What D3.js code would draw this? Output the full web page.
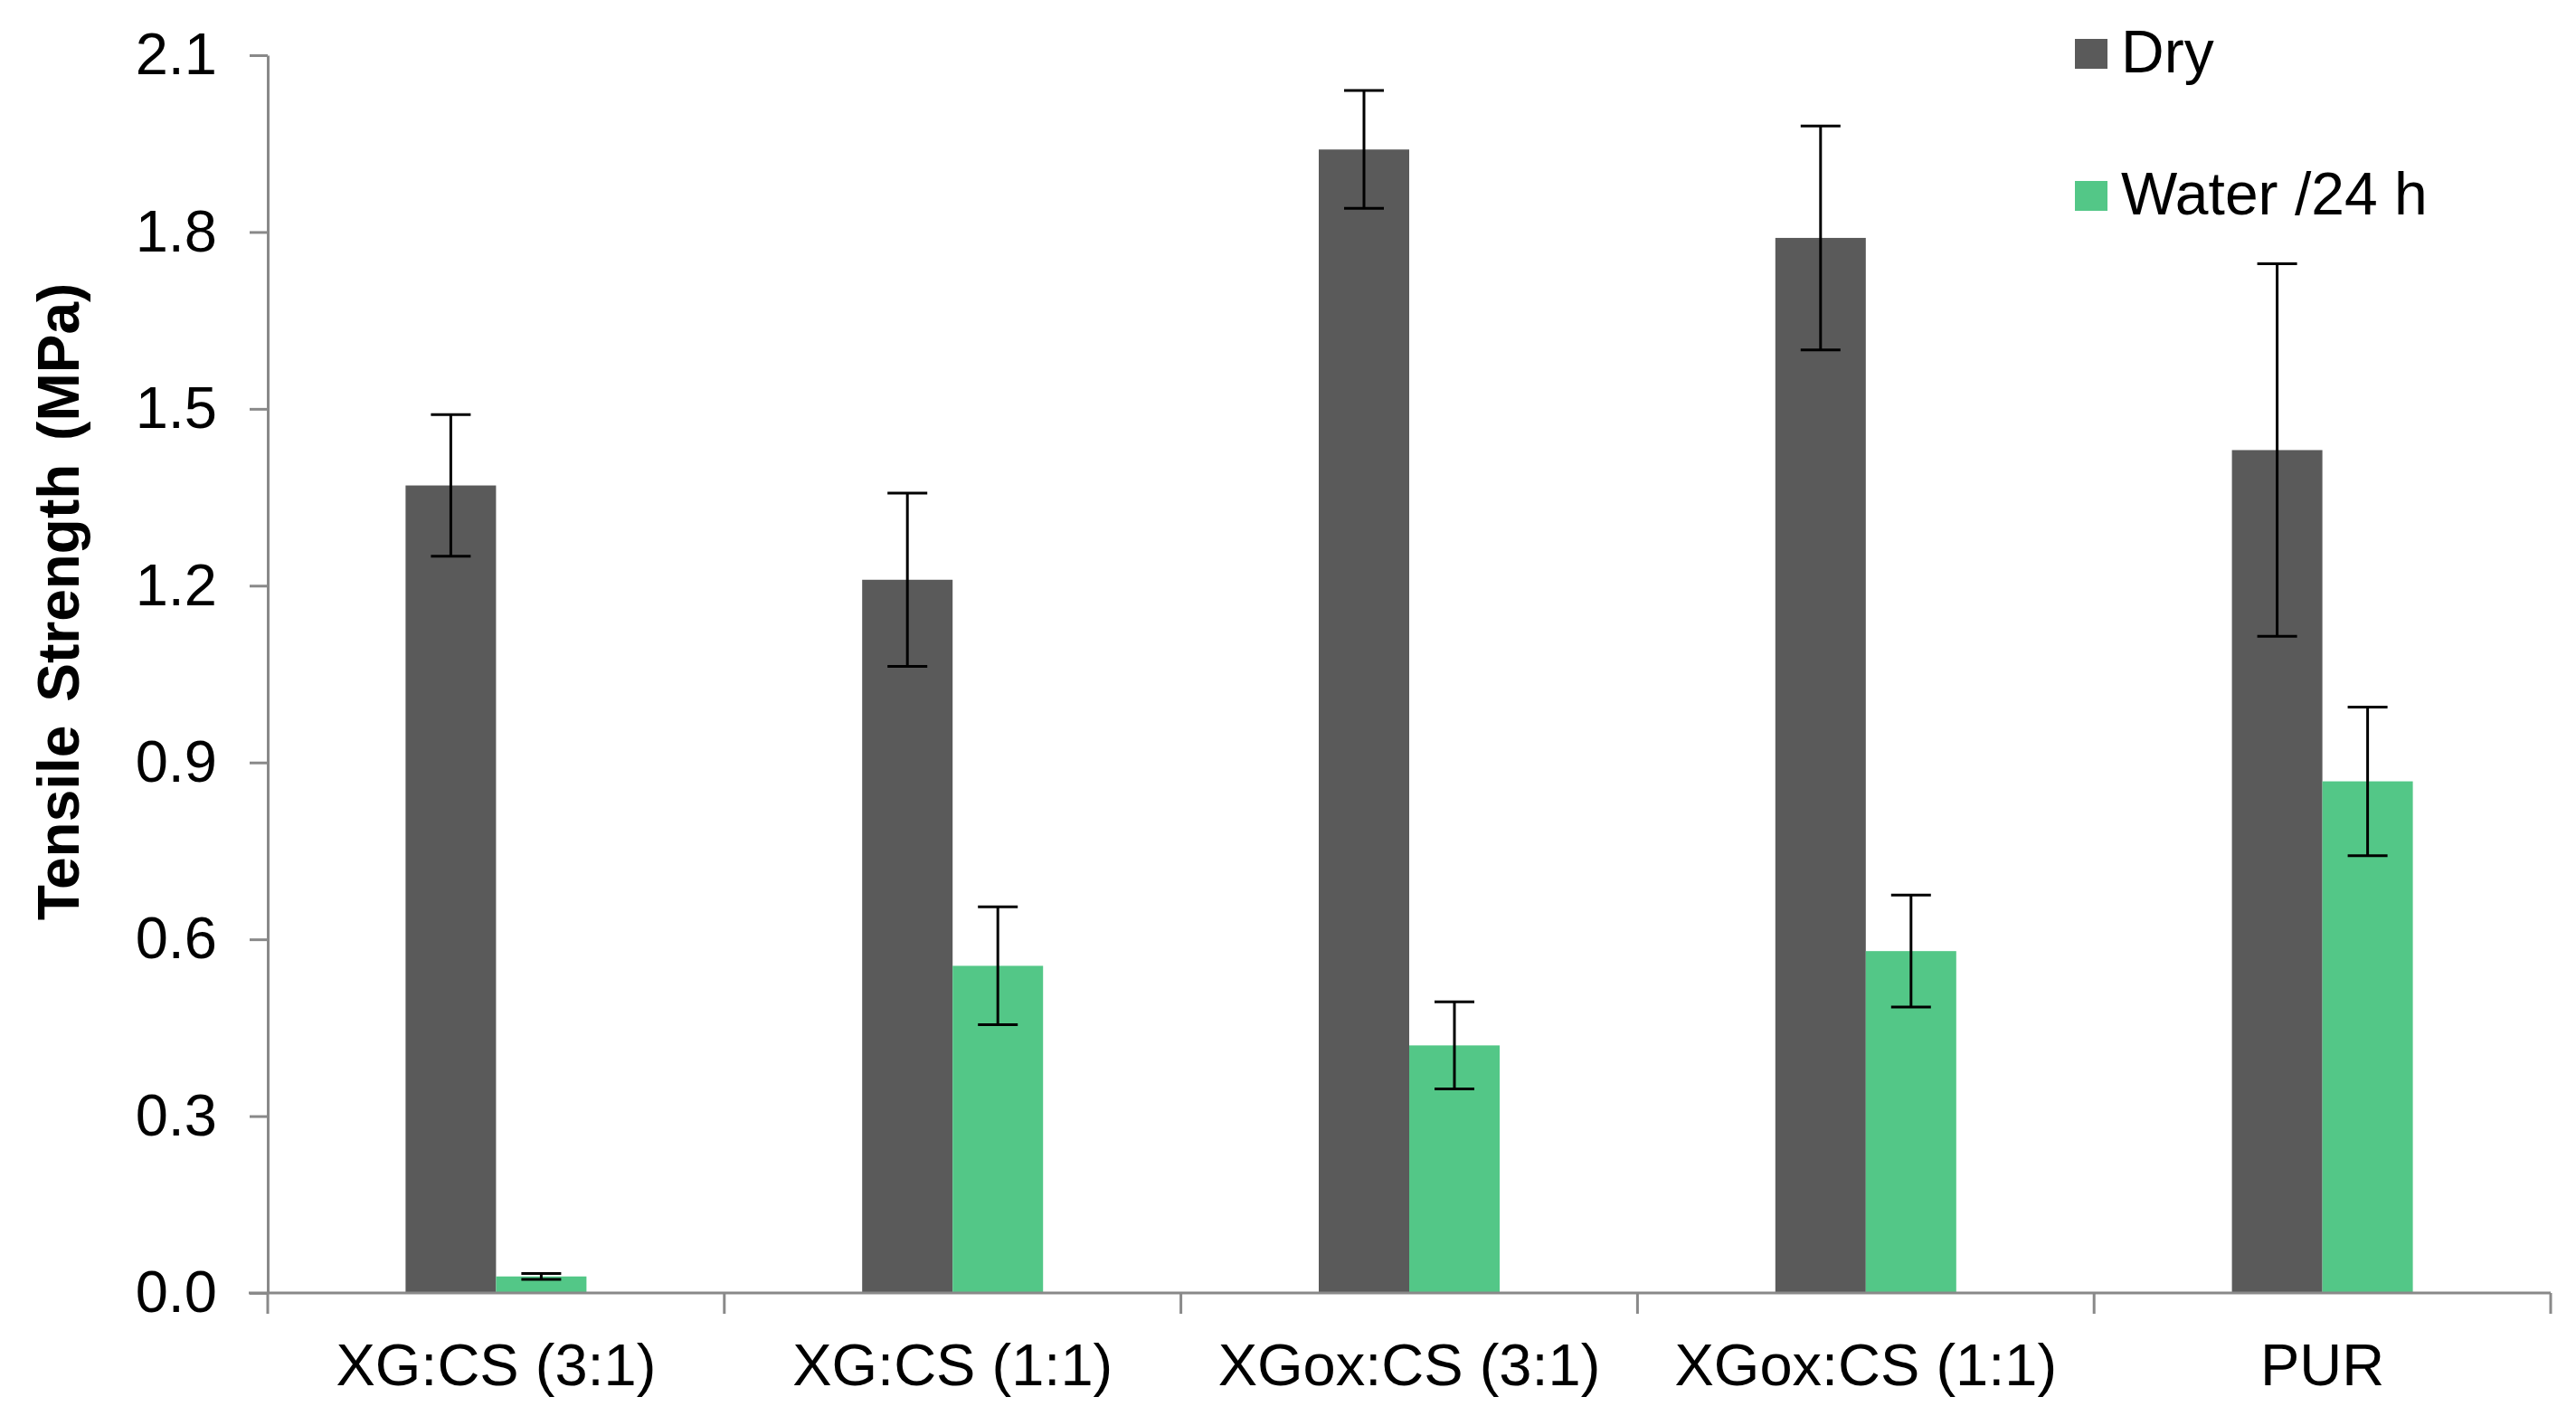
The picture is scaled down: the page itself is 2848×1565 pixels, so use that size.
<!DOCTYPE html>
<html>
<head>
<meta charset="utf-8">
<script src="https://cdn.jsdelivr.net/npm/d3@7"></script>
<style>
  body { margin: 0; background: #fff; }
  text { font-family: Arial, "Liberation Sans", sans-serif; fill: #000; }
</style>
</head>
<body>
<script>
(function() {
  'use strict';

  const categories = ['XG:CS (3:1)', 'XG:CS (1:1)', 'XGox:CS (3:1)', 'XGox:CS (1:1)', 'PUR'];
  const seriesNames = ['Dry', 'Water /24 h'];
  const dryValues = [1.37, 1.21, 1.94, 1.79, 1.43];
  const dryErrors = [0.12, 0.147, 0.10, 0.19, 0.316];
  const waterValues = [0.028, 0.555, 0.42, 0.58, 0.868];
  const waterErrors = [0.005, 0.10, 0.074, 0.095, 0.126];
  const yTicks = [0, 0.3, 0.6, 0.9, 1.2, 1.5, 1.8, 2.1];

  const w = 2848;
  const h = 1565;
  const left = 296;
  const right = 2820;
  const top = 61;
  const bottom = 1429;
  const colors = ['#5a5a5a', '#53c787'];
  const axisColor = '#898989';

  const rows = categories.map((c, i) => ({
    cat: c,
    values: [
      { s: 0, v: dryValues[i], e: dryErrors[i] },
      { s: 1, v: waterValues[i], e: waterErrors[i] }
    ]
  }));

  const x0 = d3.scaleBand().domain(categories).range([left, right]).padding(0);
  const groupW = 200;
  const x1 = d3.scaleBand().domain([0, 1]).range([0, groupW]).padding(0);
  const y = d3.scaleLinear().domain([0, 2.1]).range([bottom, top]);

  const svg = d3.select('body').append('svg')
    .attr('width', w)
    .attr('height', h);

  // bars
  const groups = svg.selectAll('g.group')
    .data(rows)
    .enter()
    .append('g')
    .attr('class', 'group')
    .attr('transform', d => 'translate(' + (x0(d.cat) + (x0.bandwidth() - groupW) / 2) + ',0)');

  groups.selectAll('rect')
    .data(d => d.values)
    .enter()
    .append('rect')
    .attr('x', d => x1(d.s))
    .attr('y', d => y(d.v))
    .attr('width', x1.bandwidth())
    .attr('height', d => y(0) - y(d.v))
    .attr('fill', d => colors[d.s]);

  // error bars
  const capW = 22;
  const err = groups.selectAll('g.err')
    .data(d => d.values)
    .enter()
    .append('g')
    .attr('class', 'err')
    .attr('stroke', '#000')
    .attr('stroke-width', 3);
  err.append('line')
    .attr('x1', d => x1(d.s) + x1.bandwidth() / 2)
    .attr('x2', d => x1(d.s) + x1.bandwidth() / 2)
    .attr('y1', d => y(d.v + d.e))
    .attr('y2', d => y(d.v - d.e));
  err.append('line')
    .attr('x1', d => x1(d.s) + x1.bandwidth() / 2 - capW)
    .attr('x2', d => x1(d.s) + x1.bandwidth() / 2 + capW)
    .attr('y1', d => y(d.v + d.e))
    .attr('y2', d => y(d.v + d.e));
  err.append('line')
    .attr('x1', d => x1(d.s) + x1.bandwidth() / 2 - capW)
    .attr('x2', d => x1(d.s) + x1.bandwidth() / 2 + capW)
    .attr('y1', d => y(d.v - d.e))
    .attr('y2', d => y(d.v - d.e));

  // y axis
  const yAxis = d3.axisLeft(y)
    .tickValues(yTicks)
    .tickFormat(d3.format('.1f'))
    .tickSize(20)
    .tickPadding(36)
    .tickSizeOuter(0);
  const gy = svg.append('g')
    .attr('transform', 'translate(' + left + ',0)')
    .call(yAxis);
  gy.select('.domain').attr('stroke', axisColor).attr('stroke-width', 3);
  gy.selectAll('.tick line').attr('stroke', axisColor).attr('stroke-width', 3);
  gy.selectAll('.tick text')
    .attr('font-size', 65)
    .attr('font-family', 'Arial, "Liberation Sans", sans-serif')
    .attr('fill', '#000');

  // x axis: ticks at category boundaries
  const gx = svg.append('g')
    .attr('transform', 'translate(0,' + bottom + ')');
  gx.append('line')
    .attr('x1', left - 21)
    .attr('x2', right)
    .attr('stroke', axisColor)
    .attr('stroke-width', 3);
  const bounds = categories.map(c => x0(c)).concat([right]);
  gx.selectAll('line.tk')
    .data(bounds)
    .enter()
    .append('line')
    .attr('class', 'tk')
    .attr('x1', d => d)
    .attr('x2', d => d)
    .attr('y1', 0)
    .attr('y2', 23)
    .attr('stroke', axisColor)
    .attr('stroke-width', 3);
  gx.selectAll('text')
    .data(categories)
    .enter()
    .append('text')
    .attr('x', d => x0(d) + x0.bandwidth() / 2)
    .attr('y', 102)
    .attr('text-anchor', 'middle')
    .attr('font-size', 65)
    .text(d => d);

  // y axis title
  svg.append('text')
    .attr('transform', 'translate(87,665) rotate(-90)')
    .attr('text-anchor', 'middle')
    .attr('font-size', 64)
    .attr('font-weight', 'bold')
    .attr('word-spacing', 8)
    .text('Tensile Strength (MPa)');

  // legend
  const legend = svg.selectAll('g.legend')
    .data(seriesNames)
    .enter()
    .append('g')
    .attr('class', 'legend')
    .attr('transform', (d, i) => 'translate(2294,' + (43 + i * 157) + ')');
  legend.append('rect')
    .attr('width', 36)
    .attr('height', 33)
    .attr('fill', (d, i) => colors[i]);
  legend.append('text')
    .attr('x', 51)
    .attr('y', 37)
    .attr('font-size', 66)
    .text(d => d);
}());
</script>
</body>
</html>
